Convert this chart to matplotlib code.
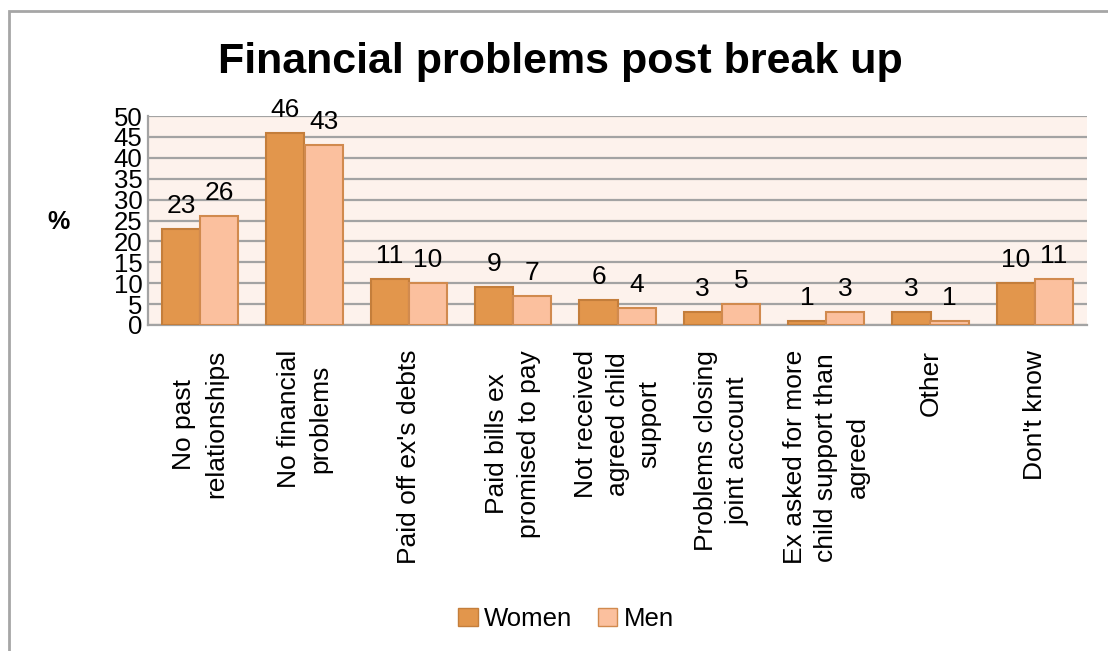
import matplotlib.pyplot as plt
import numpy as np
from matplotlib.patches import Patch, Rectangle

plt.rcParams['font.family'] = ['Liberation Sans', 'DejaVu Sans']

categories = ['No past\nrelationships', 'No financial\nproblems', "Paid off ex's debts",
              'Paid bills ex\npromised to pay', 'Not received\nagreed child\nsupport',
              'Problems closing\njoint account', 'Ex asked for more\nchild support than\nagreed',
              'Other', "Don't know"]
women = [23, 46, 11, 9, 6, 3, 1, 3, 10]
men = [26, 43, 10, 7, 4, 5, 3, 1, 11]

women_color = '#E2964C'
women_edge = '#C47E3B'
men_color = '#FBC09E'
men_edge = '#D18A4E'

fig = plt.figure(figsize=(11.08, 6.51), dpi=100)
# frame around the chart, open at the right and bottom edges
fig.patches.append(Rectangle((9 / 1108, -0.1), 1.2, 1.1 - 11 / 651,
                             transform=fig.transFigure, fill=False,
                             edgecolor='#A6A6A6', linewidth=2))

ax = fig.add_axes([148 / 1108, 1 - 325 / 651, (1087 - 148) / 1108, (325 - 116) / 651])
ax.set_facecolor('#FDF2EC')

x = np.arange(len(categories))
w = 0.365
b1 = ax.bar(x - w / 2, women, w, color=women_color, edgecolor=women_edge, linewidth=1.5, zorder=3)
b2 = ax.bar(x + w / 2, men, w, color=men_color, edgecolor=men_edge, linewidth=1.5, zorder=3)

for bars, vals in [(b1, women), (b2, men)]:
    for rect, v in zip(bars, vals):
        ax.annotate(str(v), (rect.get_x() + rect.get_width() / 2, v),
                    xytext=(0, 8), textcoords='offset points',
                    ha='center', va='bottom', fontsize=19)

ax.set_xlim(-0.5, len(categories) - 0.5)
ax.set_ylim(0, 50)
ax.set_yticks(range(0, 51, 5))
ax.yaxis.grid(True, color='#A3A3A3', linewidth=1.6, zorder=0)
ax.set_axisbelow(True)
ax.tick_params(axis='y', length=0, labelsize=18.5, pad=4)
ax.tick_params(axis='x', length=0, pad=18)
ax.set_xticks(x)
ax.set_xticklabels(categories, rotation=90, ha='center', va='top',
                   multialignment='center', fontsize=19, linespacing=1.4)

for s in ['top', 'right']:
    ax.spines[s].set_visible(False)
ax.spines['left'].set_color('#A3A3A3')
ax.spines['left'].set_linewidth(1.6)
ax.spines['bottom'].set_color('#A3A3A3')
ax.spines['bottom'].set_linewidth(1.6)

fig.text(59 / 1108, 1 - 222 / 651, '%', fontsize=18, fontweight='bold', ha='center', va='center')
fig.text(560 / 1108, 1 - 73 / 651, 'Financial problems post break up', fontsize=31,
         fontweight='bold', ha='center', va='baseline')

handles = [Patch(facecolor=women_color, edgecolor=women_edge, label='Women'),
           Patch(facecolor=men_color, edgecolor=men_edge, label='Men')]
fig.legend(handles=handles, loc='center', bbox_to_anchor=(566 / 1108, 1 - 619 / 651),
           ncol=2, frameon=False, fontsize=18.5, handlelength=0.75, handleheight=0.75,
           handletextpad=0.25, columnspacing=1.0)

fig.savefig('out.png', dpi=100)
